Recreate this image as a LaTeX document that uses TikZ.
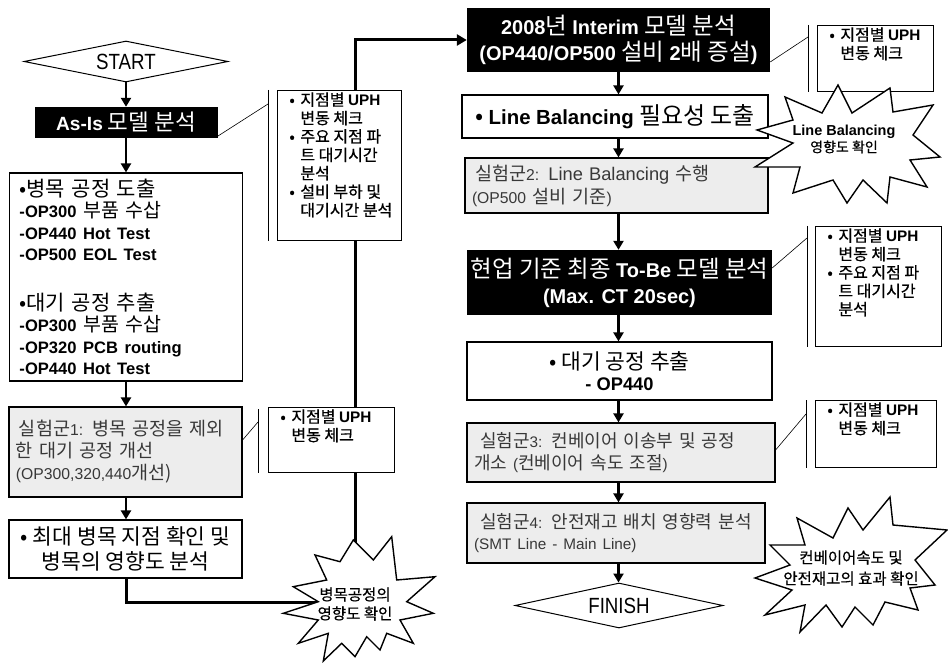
\documentclass[tikz,border=0pt]{standalone}
\usepackage{fontspec}
\usepackage{graphicx}
\setmainfont{Noto Sans CJK KR}
\newfontfamily\latfont[Scale=0.85]{Liberation Sans}
\newfontfamily\narrowfont{Liberation Sans}
\newfontfamily\krsemi[FakeBold=0.5]{Noto Sans CJK KR}
\usetikzlibrary{arrows.meta,shapes.geometric,calc}
\pgfdeclarelayer{bg}
\pgfsetlayers{bg,main}
\newcommand\latb[1]{{\latfont\bfseries #1}}
\newcommand\latr[1]{{\latfont #1}}
\newcommand\fsz[2]{\fontsize{#1}{#2}\selectfont}
\newcommand\nbul{\makebox[11pt][l]{•}}
\newcommand\nind{\hspace*{11pt}}
\newcommand\uph{{\fsz{18}{18.4}\latb{UPH}}}
\newcommand\notetext[3]{\parbox[t][#2][t]{#1}{\krsemi\fsz{16}{18.4}\raggedright\leftskip=12pt\vspace*{2pt}#3}}
\begin{document}
\begin{tikzpicture}[x=1pt,y=-1pt,
  box/.style={draw=black, line width=1.2pt, fill=white, inner sep=0pt},
  blk/.style={fill=black, text=white, inner sep=0pt},
  gbox/.style={draw=black, line width=1.2pt, fill=gray!14, text=black!78, inner sep=0pt},
  note/.style={draw=black, line width=0.8pt, fill=white, inner sep=0pt},
  flow/.style={line width=2.6pt, -{Triangle[length=9pt,width=10pt]}},
  conn/.style={line width=3pt},
  call/.style={line width=0.6pt},
  burst/.style={draw=black, line width=1.4pt, fill=white, line join=miter},
  term/.style={diamond, draw=black, line width=1pt, fill=white, inner sep=0pt, aspect=5}]
\useasboundingbox (0,0) rectangle (948,663);

% left column
\node[term, minimum width=204, minimum height=41] (start) at (126,61.5) {\narrowfont\fsz{22}{22}\scalebox{0.85}[1]{START}};
\node[blk, minimum width=183, minimum height=31, font=\fsz{22.5}{24}] (asis) at (126,122.5) {\latb{As-Is} 모델 분석};
\node[box, minimum width=233, minimum height=208, text width=213, align=left, inner xsep=10pt, font=\fsz{19.5}{21.5}] (big) at (126,277)
 {{\fsz{21}{21.5}•병목 공정 도출}\\
  \latb{-OP300} 부품 수삽\\
  \latb{-OP440 Hot Test}\\
  \latb{-OP500 EOL Test}\\[28pt]
  {\fsz{21}{21.5}•대기 공정 추출}\\
  \latb{-OP300} 부품 수삽\\
  \latb{-OP320 PCB routing}\\
  \latb{-OP440 Hot Test}};
\node[gbox, minimum width=233, minimum height=90, text width=219, align=left, inner xsep=7pt, font=\fsz{18.5}{22}] (g1) at (125.5,452)
 {\hspace*{3pt}실험군\latr{1:} 병목 공정을 제외\\한 대기 공정 개선\\\latr{(OP300,320,440}개선)};
\node[box, minimum width=233, minimum height=58, align=center, font=\fsz{21.5}{25}] (bot) at (125.5,549)
 {• 최대 병목 지점 확인 및\\병목의 영향도 분석};

% right column
\node[blk, minimum width=303, minimum height=64, align=center, font=\fsz{23.5}{26}] (i2008) at (618.5,40)
 {\latb{2008}년 \latb{Interim} 모델 분석\\\latb{(OP440/OP500} 설비 \latb{2}배 증설\latb{)}};
\node[box, minimum width=306, minimum height=43, font=\fsz{24}{26}] (lb) at (615,116.5)
 {• \latb{Line Balancing} 필요성 도출};
\node[gbox, minimum width=303, minimum height=55, text width=289, align=left, inner xsep=7pt, font=\fsz{18.5}{23}] (g2) at (616.5,185.5)
 {\hspace*{3pt}실험군\latr{2:} {\fsz{21.5}{23}\latr{Line Balancing}} 수행\\\latr{(OP500} 설비 기준\latr{)}};
\node[blk, minimum width=305, minimum height=65, align=center, font=\fsz{23.5}{26}] (tobe) at (619.5,282.5)
 {현업 기준 최종 \latb{To-Be} 모델 분석\\\latb{(Max. CT 20sec)}};
\node[box, minimum width=305, minimum height=58, align=center, font=\fsz{21.5}{21}] (wait) at (619.5,371)
 {• 대기 공정 추출\\\latb{- OP440}};
\node[gbox, minimum width=308, minimum height=59, text width=294, align=left, inner xsep=7pt, font=\fsz{18}{22}] (g3) at (621,452.5)
 {\hspace*{6pt}실험군\latr{3:} 컨베이어 이송부 및 공정\\개소 \latr{(}컨베이어 속도 조절\latr{)}};
\node[gbox, minimum width=298, minimum height=60, text width=284, align=left, inner xsep=7pt, font=\fsz{18}{21}] (g4) at (616,533)
 {\hspace*{6pt}실험군\latr{4:} 안전재고 배치 영향력 분석\\\latr{(SMT Line - Main Line)}};
\node[term, minimum width=208, minimum height=45] (finish) at (619,605.5) {\narrowfont\fsz{22}{22}\scalebox{0.85}[1]{FINISH}};

% notes
\node[note, anchor=north west] (n1) at (277,90) {\notetext{124pt}{150pt}{\nbul 지점별 \uph\\\nind 변동 체크\\\nbul 주요 지점 파\\\nind 트 대기시간\\\nind 분석\\\nbul 설비 부하 및\\\nind 대기시간 분석}};
\node[note, anchor=north west] (n2) at (268,407) {\notetext{126pt}{65pt}{\nbul 지점별 \uph\\\nind 변동 체크}};
\node[note, anchor=north west] (n3) at (817,25) {\notetext{116pt}{66pt}{\nbul 지점별 \uph\\\nind 변동 체크}};
\node[note, anchor=north west] (n4) at (815,226) {\notetext{126pt}{120pt}{\nbul 지점별 \uph\\\nind 변동 체크\\\nbul 주요 지점 파\\\nind 트 대기시간\\\nind 분석}};
\node[note, anchor=north west] (n5) at (815,400) {\notetext{121pt}{67pt}{\nbul 지점별 \uph\\\nind 변동 체크}};

% callout lines
\draw[call] ($(n1.north west)+(-9,0)$) -- ($(n1.south west)+(-9,0)$);
\draw[call] ($(asis.south east)+(0,-2)$) -- ($(n1.north west)+(-9,14)$);
\draw[call] ($(n2.north west)+(-10,2)$) -- ($(n2.south west)+(-10,0)$);
\draw[call] ($(g1.east)+(0,-12)$) -- ($(n2.north west)+(-10,15)$);
\draw[call] ($(n3.north west)+(-9,0)$) -- ($(n3.south west)+(-9,0)$);
\draw[call] ($(i2008.east)+(0,22)$) -- ($(n3.north west)+(-9,12)$);
\draw[call] ($(n4.north west)+(-8,0)$) -- ($(n4.south west)+(-8,0)$);
\draw[call] ($(tobe.east)+(0,-14.5)$) -- ($(n4.north west)+(-8,12)$);
\draw[call] ($(n5.north west)+(-9,0)$) -- ($(n5.south west)+(-9,0)$);
\draw[call] ($(g3.east)+(0,-2.5)$) -- ($(n5.north west)+(-9,14)$);

% main flow arrows
\draw[flow] (start.south) -- (start.south |- asis.north);
\draw[flow] (start.south |- asis.south) -- (start.south |- big.north);
\draw[flow] (start.south |- big.south) -- (start.south |- g1.north);
\draw[flow] (start.south |- g1.south) -- (start.south |- bot.north);
\draw[flow] (i2008.south) -- (i2008.south |- lb.north);
\draw[flow] (i2008.south |- lb.south) -- (i2008.south |- g2.north);
\draw[flow] (i2008.south |- g2.south) -- (i2008.south |- tobe.north);
\draw[flow] (i2008.south |- tobe.south) -- (i2008.south |- wait.north);
\draw[flow] (i2008.south |- wait.south) -- (i2008.south |- g3.north);
\draw[flow] (i2008.south |- g3.south) -- (i2008.south |- g4.north);
\draw[flow] (i2008.south |- g4.south) -- (i2008.south |- finish.north);

% long connector behind
\coordinate (b1c) at (355,602);
\begin{pgfonlayer}{bg}
\fill[white] (0,0) rectangle (948,663);
\draw[conn] (start.south |- bot.south) |- (b1c);
\draw[conn, -{Triangle[length=10pt,width=11pt]}] (b1c) |- (i2008.west);
\end{pgfonlayer}

% bursts
\draw[burst] (353.3,540) -- (340,561.7) -- (315,555) -- (326.7,580) -- (293.3,586.7) -- (318.3,601.7) -- (283.3,613.3) -- (318.3,620) -- (298.3,643.3) -- (328.3,633.3) -- (323.3,661) -- (341.7,643.3) -- (355,656.7) -- (366.7,636.7) -- (380,650) -- (386.7,633.3) -- (413.3,643.3) -- (400,620) -- (433.3,613.3) -- (406.7,601.7) -- (435,576.7) -- (396.7,580) -- (391.7,536.7) -- (373.3,560) -- cycle;
\node[font=\krsemi\fsz{15.5}{19}, align=center, inner sep=0pt] (b1t) at (355,604) {병목공정의\\영향도 확인};

\draw[burst] (838,85) -- (852,113) -- (890,88) -- (893,112) -- (933,105) -- (913,135) -- (940,157) -- (910,160) -- (927,187) -- (890,177) -- (887,203) -- (863,180) -- (847,203) -- (833,180) -- (793,193) -- (800,167) -- (755,167) -- (793,143) -- (757,130) -- (793,120) -- (785,97) -- (822,113) -- cycle;
\node[font=\krsemi\fsz{14}{17}, align=center, inner sep=0pt] (b2t) at (844,139) {{\fsz{17}{17}\latb{Line Balancing}}\\영향도 확인};

\draw[burst] (797,518) -- (833,538) -- (848,508) -- (863,530) -- (890,497) -- (893,525) -- (947,530) -- (915,560) -- (935,585) -- (910,588) -- (918,610) -- (885,602) -- (873,625) -- (855,607) -- (842,627) -- (826,605) -- (800,632) -- (805,605) -- (765,615) -- (792,590) -- (755,578) -- (790,565) -- (770,545) -- (805,545) -- cycle;
\node[font=\krsemi\fsz{15.5}{21}, align=center, inner sep=0pt] (b3t) at (851,568) {컨베이어속도 및\\안전재고의 효과 확인};
\end{tikzpicture}
\end{document}
